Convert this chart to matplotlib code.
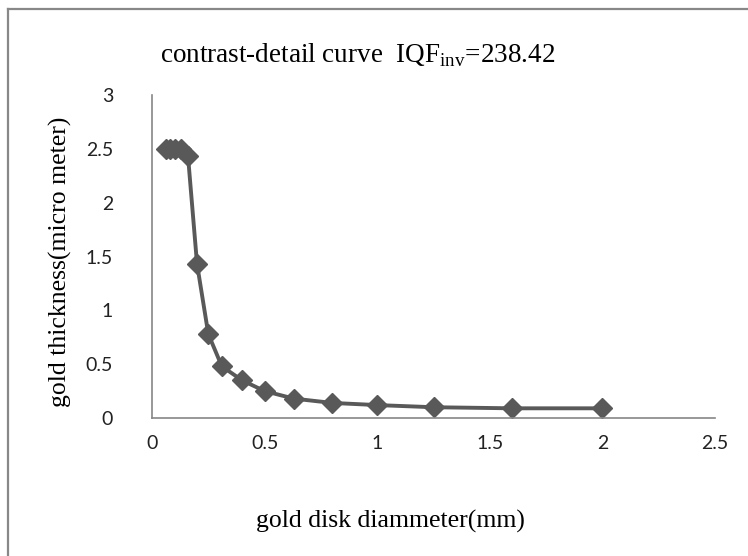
import matplotlib.pyplot as plt
from matplotlib.lines import Line2D

# gold disk diameter (mm) vs threshold gold thickness (micro meter)
diameter = [0.06, 0.08, 0.10, 0.13, 0.16, 0.20, 0.25, 0.31, 0.40, 0.50,
            0.63, 0.80, 1.00, 1.25, 1.60, 2.00]
thickness = [2.50, 2.50, 2.50, 2.50, 2.43, 1.43, 0.78, 0.48, 0.35, 0.25,
             0.18, 0.14, 0.12, 0.10, 0.09, 0.09]
xticks = [0, 0.5, 1, 1.5, 2, 2.5]
yticks = [0, 0.5, 1, 1.5, 2, 2.5, 3]

plt.rcParams['mathtext.fontset'] = 'custom'
plt.rcParams['mathtext.rm'] = 'Liberation Serif'

W, H = 748, 556
fig = plt.figure(figsize=(W / 100, H / 100), dpi=100)
ax = fig.add_axes([152 / W, 1 - 418 / H, (715 - 152) / W, (418 - 95) / H])

ax.plot(diameter, thickness, color='#595959', lw=2.8, marker='D',
        markersize=10, markerfacecolor='#595959', markeredgecolor='#595959',
        solid_joinstyle='round')

ax.set_xlim(0, 2.5)
ax.set_ylim(0, 3)
ax.set_xticks(xticks)
ax.set_yticks(yticks)
ax.set_xticklabels([f'{t:g}' for t in xticks])
ax.set_yticklabels([f'{t:g}' for t in yticks])
ax.tick_params(length=0, labelsize=14, colors='#222222')
ax.tick_params(axis='x', pad=12)
ax.tick_params(axis='y', pad=28)
for lab in ax.get_xticklabels() + ax.get_yticklabels():
    lab.set_family('Lato')
for s in ['top', 'right']:
    ax.spines[s].set_visible(False)
for s in ['left', 'bottom']:
    ax.spines[s].set_color('#868686')
    ax.spines[s].set_linewidth(1.2)

fig.text(160 / W, 1 - 55 / H, 'contrast-detail curve  IQF$_{\\mathrm{inv}}$=238.42',
         family='Liberation Serif', fontsize=19.5, ha='left', va='center')
fig.text(390 / W, 1 - 521 / H, 'gold disk diammeter(mm)',
         family='Liberation Serif', fontsize=18.5, ha='center', va='center')
fig.text(60 / W, 1 - 262 / H, 'gold thickness(micro meter)',
         family='Liberation Serif', fontsize=18.5, ha='center', va='center',
         rotation=90)

# outer chart border (left and top edges visible)
fig.add_artist(Line2D([8 / W, 8 / W], [0, 1 - 9 / H], transform=fig.transFigure,
                      color='#888888', lw=1.6))
fig.add_artist(Line2D([8 / W, 1], [1 - 9 / H, 1 - 9 / H], transform=fig.transFigure,
                      color='#888888', lw=1.6))

fig.savefig('out.png', dpi=100)
